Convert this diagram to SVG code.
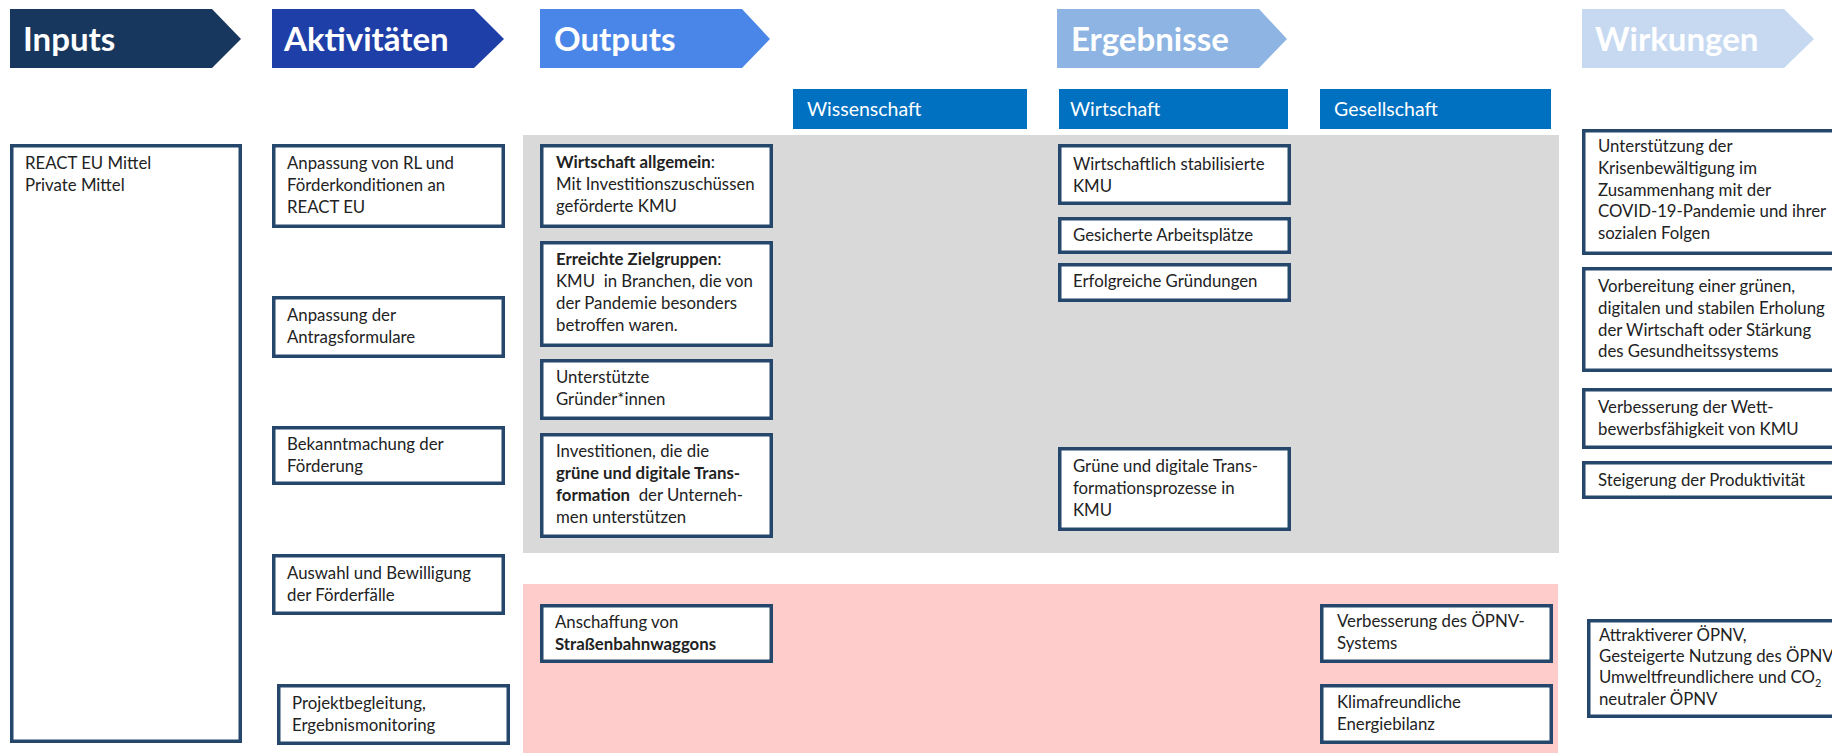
<svg xmlns="http://www.w3.org/2000/svg" width="1832" height="753" viewBox="0 0 1832 753">
<style>
.hd{font-family:Lato,"Liberation Sans",sans-serif;font-weight:700;font-size:33px;fill:#ffffff}
.bar{fill:#0070C0}
.bt{font-family:Lato,"Liberation Sans",sans-serif;font-size:19.5px;fill:#ffffff}
.box{fill:#ffffff;stroke:#24476B;stroke-width:3.5}
.t{font-family:Lato,"Liberation Sans",sans-serif;font-size:16.8px;fill:#222222}
.b{font-weight:700}
</style>
<rect width="1832" height="753" fill="#ffffff"/>
<g id="bands">
<rect x="523" y="135" width="1036" height="418" fill="#D9D9D9"/>
<rect x="523" y="584" width="1035" height="169" fill="#FFCCCC"/>
</g>
<g id="header-inputs"><path d="M10,9 L212,9 L241,39 L212,68 L10,68 Z" fill="#17375E"/><text class="hd" x="23" y="51">Inputs</text></g>
<g id="header-aktivitaeten"><path d="M272,9 L474,9 L504,39 L474,68 L272,68 Z" fill="#1F3FA8"/><text class="hd" x="284" y="51">Aktivitäten</text></g>
<g id="header-outputs"><path d="M540,9 L742,9 L770,39 L742,68 L540,68 Z" fill="#4A86E8"/><text class="hd" x="554" y="51">Outputs</text></g>
<g id="header-ergebnisse"><path d="M1057,9 L1259,9 L1287,39 L1259,68 L1057,68 Z" fill="#8DB4E2"/><text class="hd" x="1071" y="51">Ergebnisse</text></g>
<g id="header-wirkungen"><path d="M1582,9 L1784,9 L1814,39 L1784,68 L1582,68 Z" fill="#C6D9F1"/><text class="hd" x="1595" y="51">Wirkungen</text></g>
<g id="bar-wissenschaft"><rect class="bar" x="793" y="89" width="234" height="40"/><text class="bt" x="807" y="116">Wissenschaft</text></g>
<g id="bar-wirtschaft"><rect class="bar" x="1059" y="89" width="229" height="40"/><text class="bt" x="1070" y="116">Wirtschaft</text></g>
<g id="bar-gesellschaft"><rect class="bar" x="1320" y="89" width="231" height="40"/><text class="bt" x="1334" y="116">Gesellschaft</text></g>

<g id="inputs"><rect class="box" x="11.75" y="145.75" width="228.5" height="595.5"/>
<text class="t" x="25" y="169">REACT EU Mittel</text><text class="t" x="25" y="191">Private Mittel</text></g>

<g id="akt-1"><rect class="box" x="273.75" y="145.75" width="229.5" height="80.5"/>
<text class="t" x="287" y="169">Anpassung von RL und</text><text class="t" x="287" y="191">Förderkonditionen an</text><text class="t" x="287" y="213">REACT EU</text></g>
<g id="akt-2"><rect class="box" x="273.75" y="297.75" width="229.5" height="58.5"/>
<text class="t" x="287" y="321">Anpassung der</text><text class="t" x="287" y="343">Antragsformulare</text></g>
<g id="akt-3"><rect class="box" x="273.75" y="427.75" width="229.5" height="55.5"/>
<text class="t" x="287" y="450">Bekanntmachung der</text><text class="t" x="287" y="472">Förderung</text></g>
<g id="akt-4"><rect class="box" x="273.75" y="555.75" width="229.5" height="57.5"/>
<text class="t" x="287" y="579">Auswahl und Bewilligung</text><text class="t" x="287" y="601">der Förderfälle</text></g>
<g id="akt-5"><rect class="box" x="278.75" y="685.75" width="229.5" height="57.5"/>
<text class="t" x="292" y="709">Projektbegleitung,</text><text class="t" x="292" y="731">Ergebnismonitoring</text></g>

<g id="out-1"><rect class="box" x="541.75" y="145.75" width="229.5" height="80.5"/>
<text class="t" x="556" y="168"><tspan class="b">Wirtschaft allgemein</tspan>:</text><text class="t" x="556" y="190">Mit Investitionszuschüssen</text><text class="t" x="556" y="212">geförderte KMU</text></g>
<g id="out-2"><rect class="box" x="541.75" y="242.75" width="229.5" height="102.5"/>
<text class="t" x="556" y="265"><tspan class="b">Erreichte Zielgruppen</tspan>:</text><text class="t" x="556" y="287">KMU&#160; in Branchen, die von</text><text class="t" x="556" y="309">der Pandemie besonders</text><text class="t" x="556" y="331">betroffen waren.</text></g>
<g id="out-3"><rect class="box" x="541.75" y="360.75" width="229.5" height="57.5"/>
<text class="t" x="556" y="383">Unterstützte</text><text class="t" x="556" y="405">Gründer*innen</text></g>
<g id="out-4"><rect class="box" x="541.75" y="434.75" width="229.5" height="101.5"/>
<text class="t" x="556" y="457">Investitionen, die die</text><text class="t b" x="556" y="479">grüne und digitale Trans-</text><text class="t" x="556" y="501"><tspan class="b">formation</tspan>&#160; der Unterneh-</text><text class="t" x="556" y="523">men unterstützen</text></g>
<g id="out-5"><rect class="box" x="541.75" y="605.75" width="229.5" height="55.5"/>
<text class="t" x="555" y="628">Anschaffung von</text><text class="t b" x="555" y="650">Straßenbahnwaggons</text></g>

<g id="erg-1"><rect class="box" x="1059.75" y="145.75" width="229.5" height="57.5"/>
<text class="t" x="1073" y="170">Wirtschaftlich stabilisierte</text><text class="t" x="1073" y="192">KMU</text></g>
<g id="erg-2"><rect class="box" x="1059.75" y="218.75" width="229.5" height="33.5"/>
<text class="t" x="1073" y="241">Gesicherte Arbeitsplätze</text></g>
<g id="erg-3"><rect class="box" x="1059.75" y="264.75" width="229.5" height="35.5"/>
<text class="t" x="1073" y="287">Erfolgreiche Gründungen</text></g>
<g id="erg-4"><rect class="box" x="1059.75" y="448.75" width="229.5" height="80.5"/>
<text class="t" x="1073" y="472">Grüne und digitale Trans-</text><text class="t" x="1073" y="494">formationsprozesse in</text><text class="t" x="1073" y="516">KMU</text></g>

<g id="ges-1"><rect class="box" x="1321.75" y="605.75" width="229.5" height="55.5"/>
<text class="t" x="1337" y="627">Verbesserung des ÖPNV-</text><text class="t" x="1337" y="649">Systems</text></g>
<g id="ges-2"><rect class="box" x="1321.75" y="685.75" width="229.5" height="56.5"/>
<text class="t" x="1337" y="708">Klimafreundliche</text><text class="t" x="1337" y="730">Energiebilanz</text></g>

<g id="wir-1"><rect class="box" x="1583.75" y="130.75" width="260" height="122.5"/>
<text class="t" x="1598" y="152">Unterstützung der</text><text class="t" x="1598" y="174">Krisenbewältigung im</text><text class="t" x="1598" y="196">Zusammenhang mit der</text><text class="t" x="1598" y="217">COVID-19-Pandemie und ihrer</text><text class="t" x="1598" y="239">sozialen Folgen</text></g>
<g id="wir-2"><rect class="box" x="1583.75" y="268.75" width="260" height="101.5"/>
<text class="t" x="1598" y="292">Vorbereitung einer grünen,</text><text class="t" x="1598" y="314">digitalen und stabilen Erholung</text><text class="t" x="1598" y="336">der Wirtschaft oder Stärkung</text><text class="t" x="1598" y="357">des Gesundheitssystems</text></g>
<g id="wir-3"><rect class="box" x="1583.75" y="389.75" width="260" height="57.5"/>
<text class="t" x="1598" y="413">Verbesserung der Wett-</text><text class="t" x="1598" y="435">bewerbsfähigkeit von KMU</text></g>
<g id="wir-4"><rect class="box" x="1583.75" y="462.75" width="260" height="34.5"/>
<text class="t" x="1598" y="486">Steigerung der Produktivität</text></g>
<g id="wir-5"><rect class="box" x="1588.75" y="620.75" width="260" height="95.5"/>
<text class="t" x="1599" y="641">Attraktiverer ÖPNV,</text><text class="t" x="1599" y="662">Gesteigerte Nutzung des ÖPNV</text><text class="t" x="1599" y="683">Umweltfreundlichere und CO<tspan font-size="11px" dy="4">2</tspan></text><text class="t" x="1599" y="705">neutraler ÖPNV</text></g>

<g id="connectors"></g>
</svg>
